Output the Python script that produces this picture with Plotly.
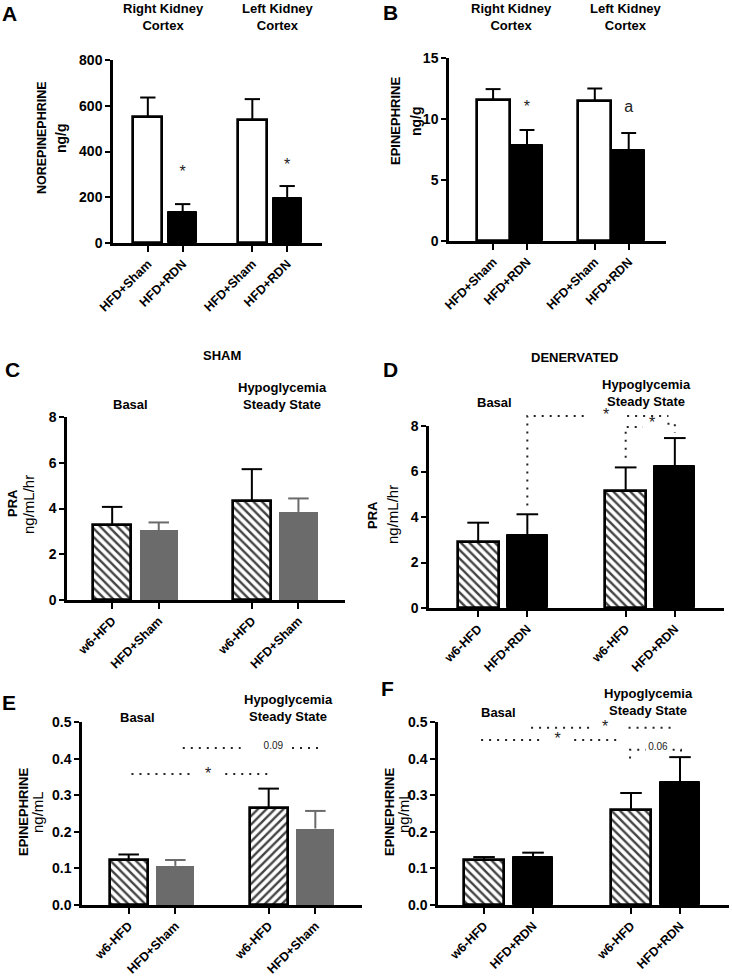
import plotly.graph_objects as go

W, H = 732, 977

# ---------------- data ----------------
positions = [0, 1, 3, 4]

a_labels = ["HFD+Sham", "HFD+RDN", "HFD+Sham", "HFD+RDN"]
a_values = [549, 134, 537, 198]
a_errors = [87, 36, 92, 51]

b_labels = ["HFD+Sham", "HFD+RDN", "HFD+Sham", "HFD+RDN"]
b_values = [11.55, 7.85, 11.5, 7.5]
b_errors = [0.9, 1.25, 1.0, 1.35]

c_labels = ["w6-HFD", "HFD+Sham", "w6-HFD", "HFD+Sham"]
c_values = [3.3, 3.05, 4.33, 3.85]
c_errors = [0.77, 0.34, 1.39, 0.59]

d_labels = ["w6-HFD", "HFD+RDN", "w6-HFD", "HFD+RDN"]
d_values = [2.89, 3.21, 5.14, 6.26]
d_errors = [0.86, 0.91, 1.04, 1.21]

e_labels = ["w6-HFD", "HFD+Sham", "w6-HFD", "HFD+Sham"]
e_values = [0.122, 0.107, 0.264, 0.209]
e_errors = [0.016, 0.016, 0.054, 0.048]

f_labels = ["w6-HFD", "HFD+RDN", "w6-HFD", "HFD+RDN"]
f_values = [0.123, 0.132, 0.259, 0.336]
f_errors = [0.008, 0.011, 0.047, 0.068]

a_ticks = [0, 200, 400, 600, 800]
b_ticks = [0, 5, 10, 15]
c_ticks = [0, 2, 4, 6, 8]
e_ticks = [0.0, 0.1, 0.2, 0.3, 0.4, 0.5]

# significance marks (x in bar positions, y in data units)
a_marks = [(1, 306, "*"), (4, 337, "*")]
b_marks = [(1, 10.9, "*"), (4, 10.9, "a")]
d_dotted = [
    [(1, 4.5), (1, 8.44), (2.24, 8.44)],
    [(3.03, 8.44), (3.87, 8.44)],
    [(3.0, 6.6), (3.0, 7.96), (3.35, 7.96)],
    [(3.85, 8.1), (4.0, 8.1), (4.0, 7.7)],
]
d_marks = [(2.6, 8.44, "*"), (3.54, 8.1, "*")]
e_dotted = [
    [(1.16, 0.429), (2.4, 0.429)],
    [(3.5, 0.429), (4.1, 0.429)],
    [(0.06, 0.358), (1.4, 0.358)],
    [(2.07, 0.358), (3.0, 0.358)],
]
e_marks = [(3.1, 0.432, "0.09"), (1.7, 0.355, "*")]
f_dotted = [
    [(0.96, 0.484), (2.2, 0.484)],
    [(2.95, 0.484), (3.92, 0.484)],
    [(-0.06, 0.451), (1.17, 0.451)],
    [(1.84, 0.451), (2.73, 0.451)],
    [(2.98, 0.40), (2.98, 0.424), (3.3, 0.424)],
    [(3.85, 0.424), (4.02, 0.424), (4.02, 0.41)],
]
f_marks = [(2.47, 0.484, "*"), (1.5, 0.451, "*"), (3.55, 0.43, "0.06")]

GRAY = "#6b6b6b"
FONT = "Liberation Sans, Arial, sans-serif"

# ---------------- panel geometry (pixels) ----------------
panels = [
    dict(n="", xl=113, xr=322, yt=60, yb=243, xr_=[-1, 5], yr=[0, 800], ticks=a_ticks, labels=a_labels,
         v=a_values, e=a_errors, st=["white", "black", "white", "black"], w=0.83, fmt=""),
    dict(n="2", xl=449, xr=666, yt=58, yb=241, xr_=[-1.3, 5.1], yr=[0, 15], ticks=b_ticks, labels=b_labels,
         v=b_values, e=b_errors, st=["white", "black", "white", "black"], w=0.97, fmt=""),
    dict(n="3", xl=67, xr=345, yt=417, yb=600, xr_=[-0.97, 5.0], yr=[0, 8], ticks=c_ticks, labels=c_labels,
         v=c_values, e=c_errors, st=["hatch\\", "gray", "hatch\\", "gray"], w=0.82, fmt=""),
    dict(n="4", xl=429, xr=724, yt=426, yb=608, xr_=[-1, 5], yr=[0, 8], ticks=c_ticks, labels=d_labels,
         v=d_values, e=d_errors, st=["hatch\\", "black", "hatch\\", "black"], w=0.84, fmt=""),
    dict(n="5", xl=82, xr=362, yt=722, yb=905, xr_=[-1, 5], yr=[0, 0.5], ticks=e_ticks, labels=e_labels,
         v=e_values, e=e_errors, st=["hatch\\", "gray", "hatch/", "gray"], w=0.82, fmt=".1f"),
    dict(n="6", xl=438, xr=729, yt=722, yb=905, xr_=[-0.94, 5.0], yr=[0, 0.5], ticks=e_ticks, labels=f_labels,
         v=f_values, e=f_errors, st=["hatch\\", "black", "hatch\\", "black"], w=0.82, fmt=".1f"),
]

fig = go.Figure()
layout = dict(width=W, height=H, margin=dict(l=0, r=0, t=0, b=0, pad=0, autoexpand=False), autosize=False,
              paper_bgcolor="white", plot_bgcolor="rgba(0,0,0,0)", showlegend=False,
              font=dict(family=FONT, color="black"), bargap=0)

for p in panels:
    n = p["n"]
    xa, ya = "x" + n, "y" + n
    colors, lw, lc, shapes = [], [], [], []
    for s in p["st"]:
        if s == "white":
            colors.append("white"); lw.append(2.7); lc.append("black"); shapes.append("")
        elif s == "black":
            colors.append("black"); lw.append(1); lc.append("black"); shapes.append("")
        elif s == "gray":
            colors.append(GRAY); lw.append(0); lc.append(GRAY); shapes.append("")
        else:
            colors.append("white"); lw.append(2.7); lc.append("black"); shapes.append(s[5:])
    fig.add_trace(go.Bar(
        x=positions, y=p["v"], width=p["w"], xaxis=xa, yaxis=ya,
        marker=dict(color=colors, line=dict(width=lw, color=lc),
                    pattern=dict(shape=shapes, fillmode="overlay", fgcolor="#000000", fgopacity=1,
                                 size=6, solidity=0.4)),
        hoverinfo="skip"))
    # error bars (upper only)
    for col in ["black", GRAY]:
        ex, ey = [], []
        for xi, v, e, s in zip(positions, p["v"], p["e"], p["st"]):
            c = GRAY if s == "gray" else "black"
            if c != col:
                continue
            cw = 0.22
            ex += [xi, xi, None, xi - cw, xi + cw, None]
            ey += [v, v + e, None, v + e, v + e, None]
        if ex:
            fig.add_trace(go.Scatter(x=ex, y=ey, mode="lines", xaxis=xa, yaxis=ya, cliponaxis=False,
                                     line=dict(color=col, width=2), hoverinfo="skip"))
    xkey = "xaxis" + n
    ykey = "yaxis" + n
    layout[xkey] = dict(domain=[p["xl"] / W, p["xr"] / W], anchor=ya, range=p["xr_"], automargin=False,
                        showline=True, linewidth=2.5, linecolor="black", showgrid=False, zeroline=False,
                        tickmode="array", tickvals=positions, ticktext=p["labels"], tickangle=-45,
                        ticks="outside", ticklen=6, tickwidth=2, tickcolor="black",
                        tickfont=dict(family=FONT, size=12.5, color="black", weight="bold"), fixedrange=True)
    layout[ykey] = dict(domain=[1 - p["yb"] / H, 1 - p["yt"] / H], anchor=xa, range=p["yr"], automargin=False,
                        showline=True, linewidth=2.5, linecolor="black", showgrid=False, zeroline=False,
                        tickmode="array", tickvals=p["ticks"], tickformat=p["fmt"],
                        ticks="outside", ticklen=5, tickwidth=2, tickcolor="black",
                        tickfont=dict(family=FONT, size=14, color="black", weight="bold"), fixedrange=True)

# invisible overlay for panel D: same scale, taller domain so marks above 8 are not clipped
pD = panels[3]
top_px = 395
ext_top = pD["yr"][1] * (pD["yb"] - top_px) / (pD["yb"] - pD["yt"])
layout["xaxis7"] = dict(domain=[pD["xl"] / W, pD["xr"] / W], anchor="y7", range=pD["xr_"], visible=False,
                        automargin=False, fixedrange=True)
layout["yaxis7"] = dict(domain=[1 - pD["yb"] / H, 1 - top_px / H], anchor="x7", range=[0, ext_top],
                        visible=False, automargin=False, fixedrange=True)


def add_dotted(segs, n):
    for seg in segs:
        fig.add_trace(go.Scatter(x=[s[0] for s in seg], y=[s[1] for s in seg], mode="lines",
                                 xaxis="x" + n, yaxis="y" + n, hoverinfo="skip", cliponaxis=False,
                                 line=dict(color="#222222", width=2, dash="2px,6px")))


def marks(lst, n):
    for x, y, t in lst:
        small = t not in ("*", "a")
        fig.add_trace(go.Scatter(x=[x], y=[y], mode="text", text=[t], textposition="middle center",
                                 xaxis="x" + n, yaxis="y" + n, hoverinfo="skip", cliponaxis=False,
                                 textfont=dict(family=FONT, size=10 if small else 16, color="#222222")))


add_dotted(d_dotted, "7")
add_dotted(e_dotted, "5")
add_dotted(f_dotted, "6")
marks(a_marks, "")
marks(b_marks, "2")
marks(d_marks, "7")
marks(e_marks, "5")
marks(f_marks, "6")

ann = []


def ptext(x, y, t, size=13, bold=True, angle=0):
    ann.append(dict(x=x / W, y=1 - y / H, xref="paper", yref="paper", text=t, showarrow=False,
                    textangle=angle, xanchor="center", yanchor="middle",
                    font=dict(family=FONT, size=size, color="black", weight="bold" if bold else "normal")))


# panel letters
for L, x, y in [("A", 9, 13), ("B", 390, 12), ("C", 12, 370), ("D", 390, 369), ("E", 9, 702), ("F", 387, 688)]:
    ptext(x, y, L, size=21)

# column titles
ptext(163, 17, "Right Kidney<br>Cortex", 13)
ptext(278, 17, "Left Kidney<br>Cortex", 13)
ptext(511, 17, "Right Kidney<br>Cortex", 13)
ptext(626, 17, "Left Kidney<br>Cortex", 13)
ptext(222, 355, "SHAM", 13)
ptext(574, 357, "DENERVATED", 13)
ptext(130, 405, "Basal", 13)
ptext(282, 396, "Hypoglycemia<br>Steady State", 13)
ptext(494, 403, "Basal", 13)
ptext(646, 393, "Hypoglycemia<br>Steady State", 13)
ptext(137, 717, "Basal", 13)
ptext(288, 708, "Hypoglycemia<br>Steady State", 13)
ptext(498, 712, "Basal", 13)
ptext(648, 702, "Hypoglycemia<br>Steady State", 13)

# y-axis titles
ptext(42, 138, "NOREPINEPHRINE", 12.5, True, -90)
ptext(61, 138, "ng/g", 14, True, -90)
ptext(395, 121, "EPINEPHRINE", 13, True, -90)
ptext(416, 121, "ng/g", 14, True, -90)
ptext(12, 503, "PRA", 13, True, -90)
ptext(28, 505, "ng/mL/hr", 15, False, -90)
ptext(372, 515, "PRA", 13, True, -90)
ptext(392, 515, "ng/mL/hr", 15, False, -90)
ptext(23, 812, "EPINEPHRINE", 13, True, -90)
ptext(37, 812, "ng/mL", 15, False, -90)
ptext(389, 812, "EPINEPHRINE", 13, True, -90)
ptext(403, 812, "ng/mL", 15, False, -90)

layout["annotations"] = ann
fig.update_layout(**layout)
fig.write_html("out.html", config={"displayModeBar": False},
               post_script="document.body.style.margin='0px';document.body.style.overflow='hidden';")
